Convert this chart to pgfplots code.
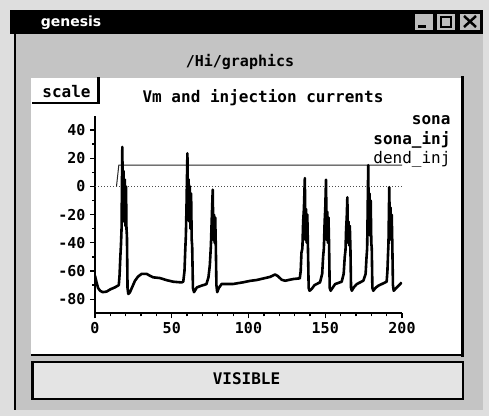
\documentclass[border=0pt]{standalone}
\usepackage{fontspec}
\usepackage{pgfplots}
\pgfplotsset{compat=1.18}
\newfontfamily\mono{DejaVu Sans Mono}
\newfontfamily\wsans{DejaVu Sans}
\newcommand\tickfont{\fontsize{15}{15}\selectfont\mono\bfseries}
\definecolor{bgout}{RGB}{222,222,222}
\definecolor{bgin}{RGB}{196,196,196}
\definecolor{btn}{RGB}{228,228,228}
\definecolor{tbtn}{RGB}{190,190,190}
\pgfplotstableread{
t v
0 -63.4
1 -68
2 -72
3.3 -74
5 -75
7.6 -74.6
10 -73
13 -71.6
15.5 -70
16 -63
16.5 -50
16.9 -42
17.3 -30
17.8 28
18.2 -22
18.6 11
19.0 -25
19.4 5
19.8 -28
20.2 0
20.5 -30
20.8 -35
21.2 -72
21.7 -76.3
22.8 -75
24 -72
26 -67
28 -64
30.4 -62
33.6 -62
35.8 -63.4
38 -64.5
42.3 -65
46.7 -66.5
51 -67.6
56.4 -68.1
57.5 -67.5
58.3 -60
58.8 -45
59.2 -35
59.6 -15
60.2 23.5
60.6 -20
61.0 5
61.4 -25
61.8 0
62.2 -30
62.6 -5
63.0 -38
63.3 -42
63.8 -72
64.5 -75
65.6 -73
66.4 -71.6
69.4 -70.4
72.6 -69.3
73.9 -64.5
74.8 -56
75.5 -42
76.0 -25
76.7 -2.3
77.1 -38
77.5 -20
77.9 -40
78.3 -22
78.7 -42
79.1 -70
79.6 -75
80.7 -72
82.5 -69.2
90 -69.2
96.6 -68
101 -67
105.3 -66.4
110 -65.2
114 -64.2
117.3 -62.5
119 -63.5
121.6 -66.2
123.8 -66.9
129.2 -65.7
133.4 -65.2
134.0 -60
134.5 -47
135.1 -44
135.6 -25
136.1 -16
136.7 5.9
137.1 -38
137.5 -16
137.9 -40
138.3 -20
138.7 -42
139.2 -72
139.8 -74
141.2 -72.7
143 -70
146.6 -68
148 -62
148.6 -50
149.1 -44
149.6 -25
150.0 -16
150.5 4.7
150.9 -38
151.3 -18
151.7 -40
152.1 -22
152.5 -42
152.9 -72
153.5 -74
156.4 -69.3
160.7 -67.6
162.0 -62
162.7 -50
163.2 -45
163.6 -30
164.0 -22
164.4 -7.7
164.8 -40
165.2 -25
165.6 -42
166.0 -28
166.4 -44
166.8 -72
167.3 -74
168.7 -71.5
170.5 -69.3
174.8 -66.9
176.3 -62
176.9 -50
177.3 -44
177.6 -20
178.0 15
178.4 -30
178.8 -5
179.2 -35
179.6 -10
180.0 -40
180.3 -44
180.7 -72
181.3 -74
182.7 -72
184.6 -70.4
190 -67.6
190.5 -60
190.9 -48
191.2 -40
191.7 -0.5
192.1 -35
192.5 -15
192.9 -38
193.3 -20
193.7 -42
194.1 -70
194.6 -74
196.7 -71.6
199.8 -68.1
}\soma
\begin{document}
\begin{tikzpicture}[x=1pt,y=1pt]
\useasboundingbox (0,0) rectangle (489,416);
% backgrounds
\fill[bgout] (0,0) rectangle (489,416);
\fill[bgin] (15,6) rectangle (483,382);
% title bar
\fill[black] (10,382) rectangle (483,406);
\node[text=white, font=\fontsize{14}{14}\selectfont\wsans\bfseries] at (71,393) {genesis};
\foreach \a/\b in {415/433,437/455,460/480}{\fill[tbtn] (\a,386) rectangle (\b,402);}
\fill[black] (418,388) rectangle (426,391);
\draw[black, line width=2pt] (441,389) rectangle (451,399);
\draw[black, line width=2.5pt] (464,389) -- (476,400) (464,400) -- (476,389);
% window left frame
\draw[black, line width=2.5pt] (15,382) -- (15,6);
% label
\node[font=\fontsize{15}{15}\selectfont\mono\bfseries] at (240,354.5) {/Hi/graphics};
% graph widget
\fill[white] (31,61) rectangle (462,338);
\draw[black, line width=3pt] (462,340) -- (462,59.5);
\draw[black, line width=2.5pt] (31,61) -- (463.5,61);
\draw[black, line width=3pt] (98,339) -- (98,312);
\draw[black, line width=2.5pt] (32,313) -- (99.5,313);
\node[font=\fontsize{16}{16}\selectfont\mono\bfseries] at (66.5,324) {scale};
\node[font=\fontsize{16}{16}\selectfont\mono\bfseries] at (263,318) {Vm and injection currents};
\node[anchor=east, font=\fontsize{16}{16}\selectfont\mono\bfseries] at (454,296) {sona};
\node[anchor=east, font=\fontsize{16}{16}\selectfont\mono\bfseries] at (454,276) {sona\_inj};
\node[anchor=east, font=\fontsize{16}{16}\selectfont\mono] at (454,257) {dend\_inj};
% VISIBLE button
\filldraw[fill=btn, draw=black, line width=2.5pt] (32.5,17) rectangle (463,54);
\node[font=\fontsize{16}{16}\selectfont\mono\bfseries] at (246.5,37) {VISIBLE};
% plot
\begin{axis}[
  at={(95pt,102.7pt)}, anchor=south west,
  scale only axis, width=307pt, height=197.4pt,
  xmin=0, xmax=200, ymin=-90, ymax=50,
  axis x line*=bottom, axis y line*=left,
  axis line style={line width=2pt},
  tick align=outside, major tick length=5pt, minor tick length=3pt,
  every tick/.style={black, line width=1.3pt},
  xtick={0,50,100,150,200}, xticklabels={0,50,100,150,200},
  minor x tick num=4,
  ytick={-80,-60,-40,-20,0,20,40}, yticklabels={-80,-60,-40,-20,0,20,40},
  minor y tick num=1,
  ticklabel style={font=\tickfont},
  xticklabel style={yshift=-1pt},
  yticklabel style={xshift=-1pt},
]
\addplot[black!70, dotted, line width=1pt] coordinates {(0,0) (200,0)};
\addplot[black!85, line width=1pt] coordinates {(14,0) (15.5,15) (200,15)};
\addplot[black, line width=2.6pt, line join=round] table[x=t, y=v] {\soma};
\end{axis}
\end{tikzpicture}
\end{document}
